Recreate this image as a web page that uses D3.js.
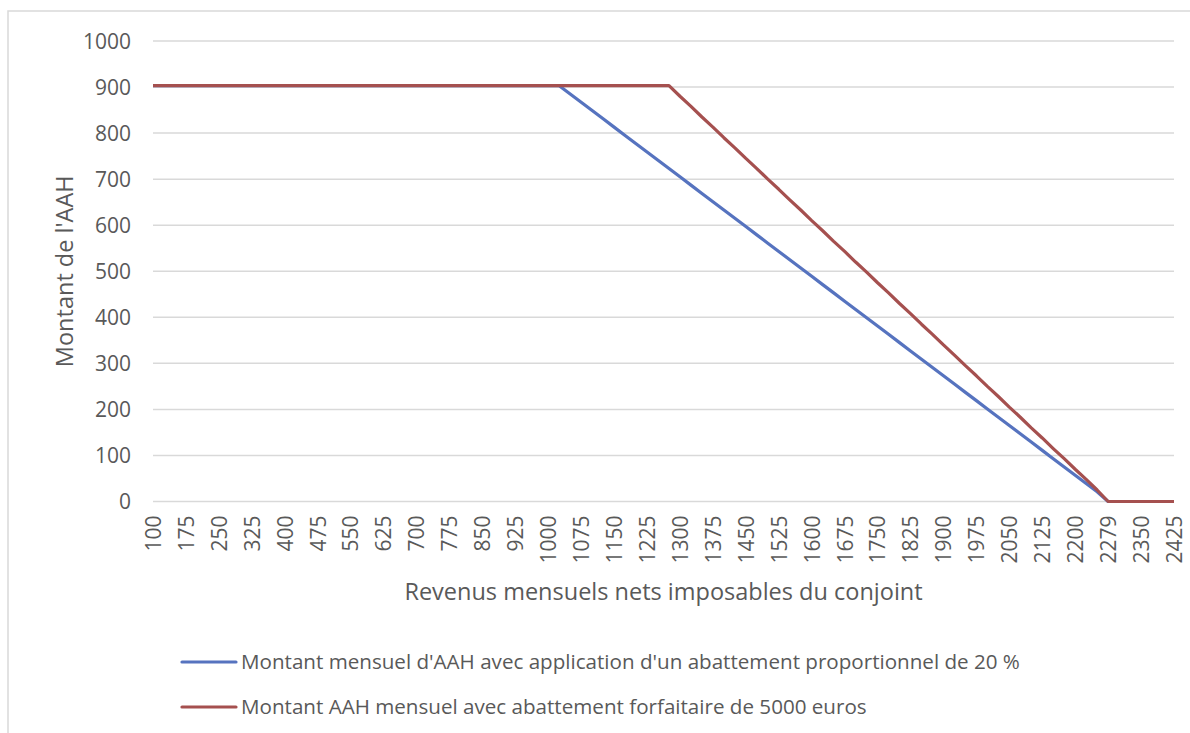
<!DOCTYPE html>
<html>
<head>
<meta charset="utf-8">
<script src="https://cdn.jsdelivr.net/npm/d3@7"></script>
<style>
  body { margin: 0; background: #fff; }
  svg text { font-family: "Open Sans", "Liberation Sans", sans-serif; fill: #595959; }
</style>
</head>
<body>
<div id="chart"></div>
<script>
// revenus du conjoint (categories, pas de 25 sauf le point 2279)
var categories = [100,125,150,175,200,225,250,275,300,325,350,375,400,425,450,475,500,525,550,575,
  600,625,650,675,700,725,750,775,800,825,850,875,900,925,950,975,1000,1025,1050,1075,
  1100,1125,1150,1175,1200,1225,1250,1275,1300,1325,1350,1375,1400,1425,1450,1475,1500,1525,1550,1575,
  1600,1625,1650,1675,1700,1725,1750,1775,1800,1825,1850,1875,1900,1925,1950,1975,2000,2025,2050,2075,
  2100,2125,2150,2175,2200,2225,2250,2279,2300,2325,2350,2375,2400,2425];

// AAH avec abattement proportionnel de 20 %
var aahProportionnel = [903,903,903,903,903,903,903,903,903,903,903,903,903,903,903,903,903,903,903,903,
  903,903,903,903,903,903,903,903,903,903,903,903,903,903,903,903,903,903,885,867,
  849,831,813,795,777,759,741,723,705,687,669,651,633,615,597,579,561,543,525,507,
  489,471,453,435,417,399,381,363,345,327,309,291,273,255,237,219,201,183,165,147,
  129,111,93,75,57,39,21,0,0,0,0,0,0,0];

// AAH avec abattement forfaitaire de 5000 euros
var aahForfaitaire = [903,903,903,903,903,903,903,903,903,903,903,903,903,903,903,903,903,903,903,903,
  903,903,903,903,903,903,903,903,903,903,903,903,903,903,903,903,903,903,903,903,
  903,903,903,903,903,903,903,903,880,858,835,813,790,768,745,723,700,678,655,633,
  610,588,565,543,520,498,475,453,430,408,385,363,340,318,295,273,250,228,205,183,
  160,138,115,93,70,48,25,0,0,0,0,0,0,0];

var yTicks = [0,100,200,300,400,500,600,700,800,900,1000];
var seriesNames = [
  "Montant mensuel d'AAH avec application d'un abattement proportionnel de 20 %",
  "Montant AAH mensuel avec abattement forfaitaire de 5000 euros"
];
var colors = ["#5673BF", "#A5504F"];

var width = 1190, height = 733;
var tickSize = 21, titleSize = 23.5, legendSize = 20.6;
var margin = {left: 153, right: 16, top: 41, bottom: 232};

var svg = d3.select("#chart").append("svg")
    .attr("width", width)
    .attr("height", height);

// cadre du graphique (coupé à droite et en bas)
svg.append("rect")
    .attr("x", 8).attr("y", 11)
    .attr("width", width + 10).attr("height", height + 10)
    .attr("fill", "none")
    .attr("stroke", "#d9d9d9")
    .attr("stroke-width", 1.5);

var x = d3.scalePoint()
    .domain(d3.range(categories.length))
    .range([margin.left, width - margin.right]);

var y = d3.scaleLinear()
    .domain([0, 1000])
    .range([height - margin.bottom + 0.5, margin.top]);

// grille horizontale
svg.append("g")
    .selectAll("line")
    .data(yTicks)
    .enter().append("line")
    .attr("x1", margin.left)
    .attr("x2", width - margin.right)
    .attr("y1", function(d) { return y(d); })
    .attr("y2", function(d) { return y(d); })
    .attr("stroke", "#d9d9d9")
    .attr("stroke-width", 1.5);

// axe Y
var yAxis = svg.append("g")
    .attr("transform", "translate(" + (margin.left - 22) + ",0)")
    .call(d3.axisLeft(y).tickValues(yTicks).tickFormat(d3.format("d")).tickSize(0).tickPadding(0));
yAxis.select(".domain").remove();
yAxis.selectAll("text")
    .attr("font-size", tickSize)
    .attr("dy", "0.35em")
    .style("font-family", null);

// axe X : une étiquette sur trois
var xAxis = svg.append("g")
    .attr("transform", "translate(0," + y(0) + ")")
    .call(d3.axisBottom(x)
        .tickValues(d3.range(0, categories.length, 3))
        .tickFormat(function(i) { return categories[i]; })
        .tickSize(0));
xAxis.select(".domain").remove();
xAxis.selectAll("text")
    .attr("font-size", tickSize)
    .attr("transform", "rotate(-90)")
    .attr("text-anchor", "end")
    .attr("x", -14)
    .attr("y", 0)
    .attr("dy", "0.35em")
    .style("font-family", null);

// titres des axes
svg.append("text")
    .attr("x", (margin.left + width - margin.right) / 2)
    .attr("y", 600)
    .attr("text-anchor", "middle")
    .attr("font-size", titleSize)
    .text("Revenus mensuels nets imposables du conjoint");

svg.append("text")
    .attr("transform", "translate(73," + ((y(0) + y(1000)) / 2) + ") rotate(-90)")
    .attr("text-anchor", "middle")
    .attr("font-size", titleSize)
    .text("Montant de l'AAH");

// courbes
var line = d3.line()
    .x(function(d, i) { return x(i); })
    .y(function(d) { return y(d); });

[aahProportionnel, aahForfaitaire].forEach(function(values, k) {
    svg.append("path")
        .datum(values)
        .attr("fill", "none")
        .attr("stroke", colors[k])
        .attr("stroke-width", 3.2)
        .attr("stroke-linejoin", "round")
        .attr("d", line);
});

// légende
var legend = svg.append("g")
    .selectAll("g")
    .data(seriesNames)
    .enter().append("g")
    .attr("transform", function(d, i) { return "translate(182," + (662 + i * 45) + ")"; });

legend.append("line")
    .attr("x1", 0).attr("x2", 54)
    .attr("stroke", function(d, i) { return colors[i]; })
    .attr("stroke-width", 3.2)
    .attr("stroke-linecap", "round");

legend.append("text")
    .attr("x", 59)
    .attr("dy", "0.35em")
    .attr("font-size", legendSize)
    .text(function(d) { return d; });
</script>
</body>
</html>
